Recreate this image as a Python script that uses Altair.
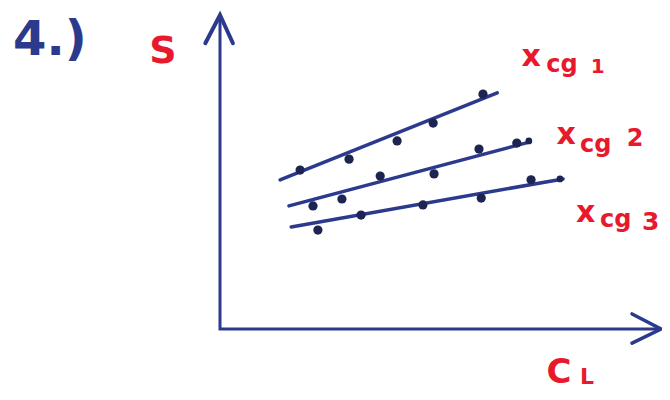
import altair as alt
import pandas as pd

# ---- data (C_L on x, S on y, arbitrary units) ----
series_names = ["x_cg1", "x_cg2", "x_cg3"]
cl1 = [1.80, 2.90, 3.98, 4.79, 5.91]
s1 = [5.06, 5.41, 5.99, 6.56, 7.48]
cl2 = [2.09, 2.74, 3.60, 4.81, 5.82, 6.67]
s2 = [3.92, 4.14, 4.87, 4.94, 5.73, 5.92]
cl3 = [2.20, 3.17, 4.56, 5.87, 6.99]
s3 = [3.15, 3.63, 3.95, 4.17, 4.75]
# small trailing dots at the line ends
tail_cl = [6.94, 7.64]
tail_s = [5.99, 4.78]
# hand-drawn fit lines (endpoints)
fit1_cl = [1.35, 6.23]
fit1_s = [4.75, 7.52]
fit2_cl = [1.55, 6.97]
fit2_s = [3.92, 5.96]
fit3_cl = [1.60, 7.71]
fit3_s = [3.25, 4.78]

NAVY = "#2b3a8c"
DOT = "#1d2452"
RED = "#e8192c"

X = alt.Scale(domain=[-4.764, 9.9326], nice=False, zero=False)
Y = alt.Scale(domain=[-2.0064, 10.2229], nice=False, zero=False)


def xe(f="cl"):
    return alt.X(f"{f}:Q", scale=X, axis=None)


def ye(f="s"):
    return alt.Y(f"{f}:Q", scale=Y, axis=None)


pts = pd.DataFrame({
    "cl": cl1 + cl2 + cl3,
    "s": s1 + s2 + s3,
    "series": [series_names[0]] * len(cl1) + [series_names[1]] * len(cl2) + [series_names[2]] * len(cl3),
})
tails = pd.DataFrame({"cl": tail_cl, "s": tail_s})
fits = pd.DataFrame({
    "cl": fit1_cl + fit2_cl + fit3_cl,
    "s": fit1_s + fit2_s + fit3_s,
    "series": [n for n in series_names for _ in range(2)],
})

# axes drawn as arrows (sketch style)
axes_df = pd.DataFrame({
    "cl": [0, 0, 9.91],
    "s": [10.0, 0, 0],
    "o": [0, 1, 2],
})
arrow_x = pd.DataFrame({"cl": [9.26, 9.91, 9.26], "s": [0.48, 0.0, -0.45], "o": [0, 1, 2]})
arrow_y = pd.DataFrame({"cl": [-0.33, 0.0, 0.29], "s": [9.1, 10.0, 9.1], "o": [0, 1, 2]})

axes_line = alt.Chart(axes_df).mark_line(color=NAVY, strokeWidth=3).encode(
    x=xe(), y=ye(), order="o:Q")
ax_head = alt.Chart(arrow_x).mark_line(color=NAVY, strokeWidth=3.5, strokeCap="round").encode(
    x=xe(), y=ye(), order="o:Q")
ay_head = alt.Chart(arrow_y).mark_line(color=NAVY, strokeWidth=4, strokeCap="round").encode(
    x=xe(), y=ye(), order="o:Q")

fit_lines = alt.Chart(fits).mark_line(color=NAVY, strokeWidth=3.5, strokeCap="round").encode(
    x=xe(), y=ye(), detail="series:N")
dots = alt.Chart(pts).mark_circle(color=DOT, size=85, opacity=1).encode(x=xe(), y=ye())
tail_dots = alt.Chart(tails).mark_circle(color=DOT, size=45, opacity=1).encode(x=xe(), y=ye())


def label(text, cl, s, size, color, align="center", baseline="middle", weight="bold"):
    df = pd.DataFrame({"cl": [cl], "s": [s], "t": [text]})
    return alt.Chart(df).mark_text(
        font="DejaVu Sans", fontSize=size, color=color, align=align,
        baseline=baseline, fontWeight=weight,
    ).encode(x=xe(), y=ye(), text="t:N")


texts = [
    label("4.)", -4.65, 8.73, 48, NAVY, align="left", baseline="alphabetic"),
    label("S", -1.28, 8.82, 38, RED),
    label("C", 7.62, -1.40, 34, RED),
    label("L", 8.25, -1.52, 22, RED),
    # x_cg1
    label("x", 6.99, 8.66, 30, RED),
    label("cg", 7.33, 8.18, 24, RED, align="left", baseline="alphabetic"),
    label("1", 8.49, 8.34, 20, RED),
    # x_cg 2
    label("x", 7.78, 6.18, 30, RED),
    label("cg", 8.09, 5.64, 24, RED, align="left", baseline="alphabetic"),
    label("2", 9.33, 6.05, 24, RED),
    # x_cg 3
    label("x", 8.22, 3.69, 30, RED),
    label("cg", 8.54, 3.25, 24, RED, align="left", baseline="alphabetic"),
    label("3", 9.68, 3.41, 25, RED),
]

chart = alt.layer(
    axes_line, ax_head, ay_head, fit_lines, dots, tail_dots, *texts
).properties(
    width=654, height=384, padding=0,
    autosize=alt.AutoSizeParams(type="none"),
    background="white",
).configure_view(stroke=None)

chart.save("out.html", embed_options={"renderer": "svg", "actions": False})
